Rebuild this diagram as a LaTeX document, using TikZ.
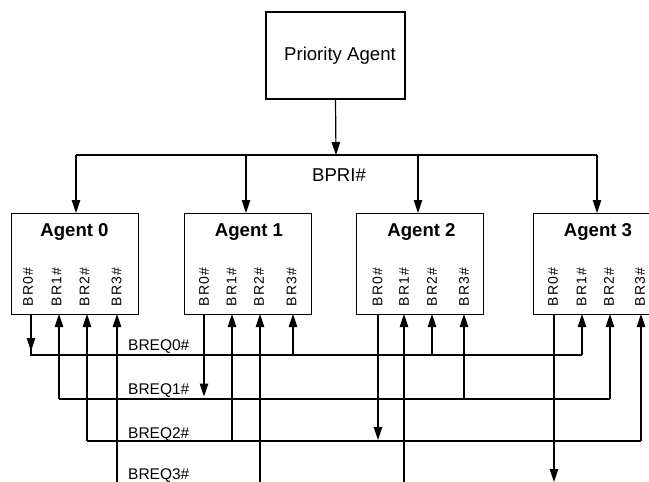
\documentclass[tikz,border=0pt]{standalone}
\usepackage{fontspec}
\setmainfont{Liberation Sans}
\usetikzlibrary{arrows.meta}
% loosely tracked pin names
\newcommand\pinname[1]{B\kern1.1pt R\kern1.1pt #1\kern1.1pt\#}
\begin{document}
\begin{tikzpicture}[x=1pt,y=-1pt,
  box/.style={draw,line width=1.4pt,minimum width=127pt,minimum height=101pt,anchor=north west,inner sep=0pt},
  wire/.style={line width=1.2pt},
  tip/.style={wire,-{Triangle[length=13pt,width=8.5pt]}},
  title/.style={font=\bfseries\fontsize{18.6}{19}\selectfont,inner sep=0pt},
  pin/.style={rotate=90,font=\fontsize{14}{14}\selectfont,inner sep=0pt},
  buslabel/.style={font=\fontsize{15.5}{16}\selectfont,anchor=west,inner sep=0pt}]
\clip (0,0) rectangle (649,482);

% priority agent and the BPRI# bus
\node[draw,line width=1.4pt,minimum width=139pt,minimum height=87pt,inner sep=0pt,
      font=\fontsize{18.6}{19}\selectfont] (pa) at (335.5,55.5) {\hspace{9pt}Priority Agent};
\coordinate (bpri) at (336,155);
\draw[tip] (pa.south) -- (bpri);
\node[font=\fontsize{18.6}{19}\selectfont,inner sep=0pt] (bprilabel) at (339,175) {BPRI\#};

% the four bus agents
\node[box] (ag0) at (11,213) {};
\node[box] (ag1) at (184,213) {};
\node[box] (ag2) at (356,213) {};
\node[box] (ag3) at (533,213) {};
\node[title] (t0) at (74.5,232) {Agent 0};
\node[title] (t1) at (249,232) {Agent 1};
\node[title] (t2) at (421.5,232) {Agent 2};
\node[title] (t3) at (598,232) {Agent 3};

% request pin labels
\node[pin] (l00) at (28,287) {\pinname0};
\node[pin] (l01) at (56.5,287) {\pinname1};
\node[pin] (l02) at (84.5,287) {\pinname2};
\node[pin] (l03) at (116.5,287) {\pinname3};
\node[pin] (l10) at (204,287) {\pinname0};
\node[pin] (l11) at (231.5,287) {\pinname1};
\node[pin] (l12) at (259,287) {\pinname2};
\node[pin] (l13) at (291.5,287) {\pinname3};
\node[pin] (l20) at (377.5,287) {\pinname0};
\node[pin] (l21) at (404,287) {\pinname1};
\node[pin] (l22) at (432,287) {\pinname2};
\node[pin] (l23) at (464,287) {\pinname3};
\node[pin] (l30) at (553,287) {\pinname0};
\node[pin] (l31) at (581.5,287) {\pinname1};
\node[pin] (l32) at (609,287) {\pinname2};
\node[pin] (l33) at (640,287) {\pinname3};

% pin points on the lower edge of each agent
\coordinate (p00) at (31,314);  \coordinate (p01) at (59,314);
\coordinate (p02) at (87,314);  \coordinate (p03) at (117,314);
\coordinate (p10) at (204,314); \coordinate (p11) at (232,314);
\coordinate (p12) at (260,314); \coordinate (p13) at (293,314);
\coordinate (p20) at (378,314); \coordinate (p21) at (404,314);
\coordinate (p22) at (432,314); \coordinate (p23) at (464,314);
\coordinate (p30) at (554,314); \coordinate (p31) at (582,314);
\coordinate (p32) at (610,314); \coordinate (p33) at (641,314);

% BPRI# drops to every agent
\coordinate (bl) at (76,155);
\coordinate (b1) at (246,155);
\coordinate (b2) at (418,155);
\coordinate (br) at (597,155);
\draw[wire] (bl) -- (br);
\draw[tip] (bl) -- (bl |- ag0.north);
\draw[tip] (b1) -- (b1 |- ag1.north);
\draw[tip] (b2) -- (b2 |- ag2.north);
\draw[tip] (br) -- (br |- ag3.north);

% BREQ0#: driven by agent 0
\coordinate (q0l) at (31,355);
\coordinate (q0r) at (582,355);
\coordinate (e0) at (31,351);
\draw[tip] (p00) -- (e0);
\draw[wire] (31,349) -- (q0l) -- (q0r);
\draw[tip] (q0r) -- (p31);
\draw[tip] (q0l -| p13) -- (p13);
\draw[tip] (q0l -| p22) -- (p22);

% BREQ1#: driven by agent 1
\coordinate (q1l) at (59,399);
\coordinate (q1r) at (610,399);
\coordinate (e1) at (204,396.5);
\draw[tip] (p10) -- (e1);
\draw[wire] (q1l) -- (q1r);
\draw[tip] (q1l) -- (p01);
\draw[tip] (q1r) -- (p32);
\draw[tip] (q1l -| p23) -- (p23);

% BREQ2#: driven by agent 2
\coordinate (q2l) at (87,441);
\coordinate (q2r) at (641,441);
\coordinate (e2) at (378,440);
\draw[tip] (p20) -- (e2);
\draw[wire] (q2l) -- (q2r);
\draw[tip] (q2l) -- (p02);
\draw[tip] (q2r) -- (p33);
\draw[tip] (q2l -| p11) -- (p11);

% BREQ3#: driven by agent 3, its bus runs below the lower edge
\coordinate (q3l) at (117,495);
\coordinate (e3) at (554,482);
\draw[tip] (p30) -- (e3);
\draw[tip] (q3l) -- (p03);
\draw[tip] (q3l -| p12) -- (p12);
\draw[tip] (q3l -| p21) -- (p21);

% bus names
\node[buslabel] (n0) at (128,347) {BREQ0\#};
\node[buslabel] (n1) at (128,391) {BREQ1\#};
\node[buslabel] (n2) at (128,435) {BREQ2\#};
\node[buslabel] (n3) at (128,475.5) {BREQ3\#};
\end{tikzpicture}
\end{document}
